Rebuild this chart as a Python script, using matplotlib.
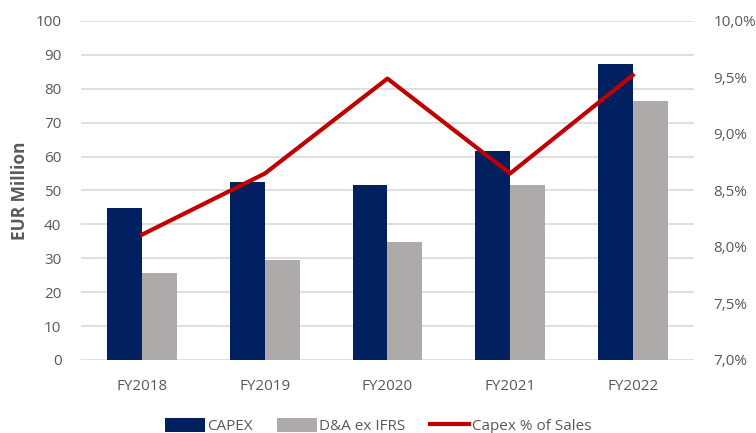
import numpy as np
import matplotlib.pyplot as plt
from matplotlib.ticker import FuncFormatter

plt.rcParams['font.family'] = ['Open Sans', 'DejaVu Sans']

years = ['FY2018', 'FY2019', 'FY2020', 'FY2021', 'FY2022']
capex = [44.8, 52.4, 51.5, 61.6, 87.3]
dna = [25.8, 29.4, 34.9, 51.5, 76.4]
capex_pct = [8.11, 8.65, 9.49, 8.65, 9.52]

navy = '#002060'
grey = '#aeaaaa'
red = '#c00000'
txt = '#595959'

fig = plt.figure(figsize=(7.56, 4.33), dpi=100)
ax = fig.add_axes([0.107, 0.1686, 0.811, 0.783])
x = np.arange(len(years))
w = 0.285
ax.bar(x - w / 2, capex, w, color=navy, label='CAPEX', zorder=2)
ax.bar(x + w / 2, dna, w, color=grey, label='D&A ex IFRS', zorder=2)
ax.set_xlim(-0.5, len(years) - 0.5)
ax.set_ylim(0, 100)
ax.set_yticks(range(0, 101, 10))
ax.set_xticks(x)
ax.set_xticklabels(years)
ax.grid(axis='y', color='#d9d9d9', linewidth=1.2, zorder=0)
ax.set_axisbelow(True)
for s in ax.spines.values():
    s.set_visible(False)
ax.tick_params(length=0, colors=txt, labelsize=11)
ax.tick_params(axis='x', pad=14)
ax.tick_params(axis='y', pad=14)
ax.set_ylabel('EUR Million', color=txt, fontsize=12.5, fontweight='bold')
ax.yaxis.set_label_coords(-0.084, 0.5)

ax2 = ax.twinx()
ax2.plot(x, capex_pct, color=red, linewidth=3, label='Capex % of Sales', zorder=3)
ax2.set_ylim(7.0, 10.0)
ax2.set_yticks(np.arange(7.0, 10.01, 0.5))
ax2.yaxis.set_major_formatter(FuncFormatter(lambda v, p: f'{v:.1f}%'.replace('.', ',')))
for s in ax2.spines.values():
    s.set_visible(False)
ax2.tick_params(length=0, colors=txt, labelsize=11, pad=14)

h1, l1 = ax.get_legend_handles_labels()
h2, l2 = ax2.get_legend_handles_labels()
fig.legend(h1 + h2, l1 + l2, loc='lower center', bbox_to_anchor=(0.5, -0.035), ncol=3,
           frameon=False, fontsize=11, labelcolor=txt, handlelength=2.6,
           handleheight=1.0, columnspacing=1.6, handletextpad=0.15)

fig.savefig('out.png', dpi=100)
